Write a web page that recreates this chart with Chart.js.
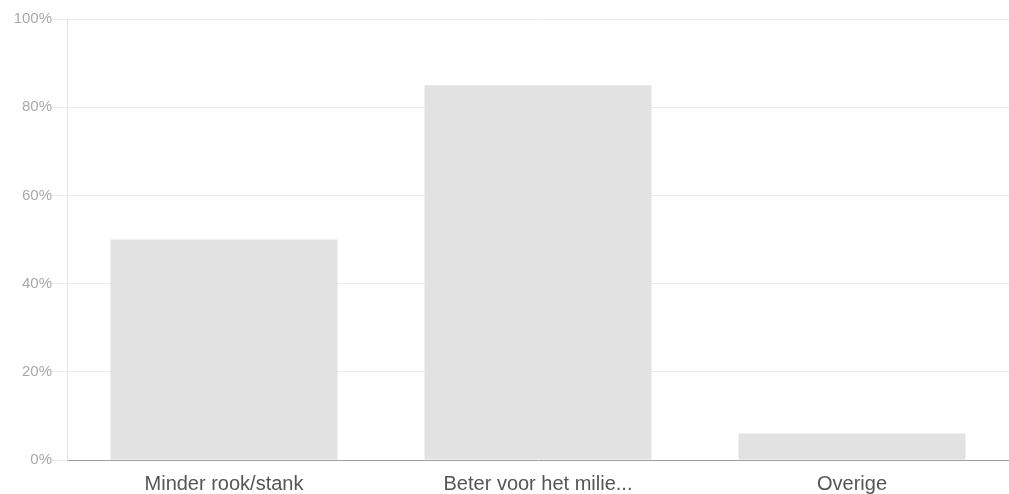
<!DOCTYPE html>
<html lang="nl">
<head>
    <meta charset="UTF-8">
    <title>Chart</title>
    <style>
        body { margin: 0; background: #fff; }
        #wrap { width: 1009px; height: 494px; position: relative; }
    </style>
</head>
<body>
    <script src="https://cdn.jsdelivr.net/npm/chart.js@4/dist/chart.umd.min.js"></script>
    <div id="wrap"><canvas id="chart1"></canvas></div>
    <script>
        // values
        var categories = ["Minder rook/stank", "Beter voor het milie...", "Overige"];
        var percentages = [50, 85, 6];
        var yTicks = [0, 20, 40, 60, 80, 100];

        var barColor = "#e2e2e2";
        var gridColor = "#ebebeb";
        var tickColor = "#a8a8a8";
        var labelColor = "#555555";

        var context1 = document.getElementById('chart1').getContext('2d');
        window.chart1 = new Chart(context1, {
            type: 'bar',
            data: {
                labels: categories,
                datasets: [{
                    data: percentages,
                    backgroundColor: barColor,
                    borderWidth: 0,
                    barPercentage: 0.723,
                    categoryPercentage: 1.0
                }]
            },
            options: {
                responsive: true,
                maintainAspectRatio: false,
                animation: false,
                layout: { padding: { top: 19, left: 0, right: 0, bottom: 0 } },
                plugins: {
                    legend: { display: false },
                    tooltip: { enabled: false }
                },
                scales: {
                    x: {
                        grid: { display: false, drawTicks: false },
                        border: { display: true, color: "#9e9e9e", width: 1 },
                        ticks: {
                            color: labelColor,
                            padding: 12,
                            maxRotation: 0,
                            autoSkip: false,
                            font: { family: "'Liberation Sans', Arial, sans-serif", size: 20 }
                        },
                        afterFit: function(scale) { scale.height = 34; }
                    },
                    y: {
                        min: 0,
                        max: 100,
                        afterBuildTicks: function(scale) {
                            scale.ticks = yTicks.map(function(v) { return { value: v }; });
                        },
                        grid: { color: gridColor, tickLength: 15, drawTicks: true },
                        border: { display: true, color: "#e4e4e4", width: 1 },
                        ticks: {
                            color: tickColor,
                            padding: 0,
                            font: { family: "'Liberation Sans', Arial, sans-serif", size: 15 },
                            callback: function(v) { return v + '%'; }
                        },
                        afterFit: function(scale) { scale.width = 67; }
                    }
                }
            }
        });
    </script>
</body>
</html>
